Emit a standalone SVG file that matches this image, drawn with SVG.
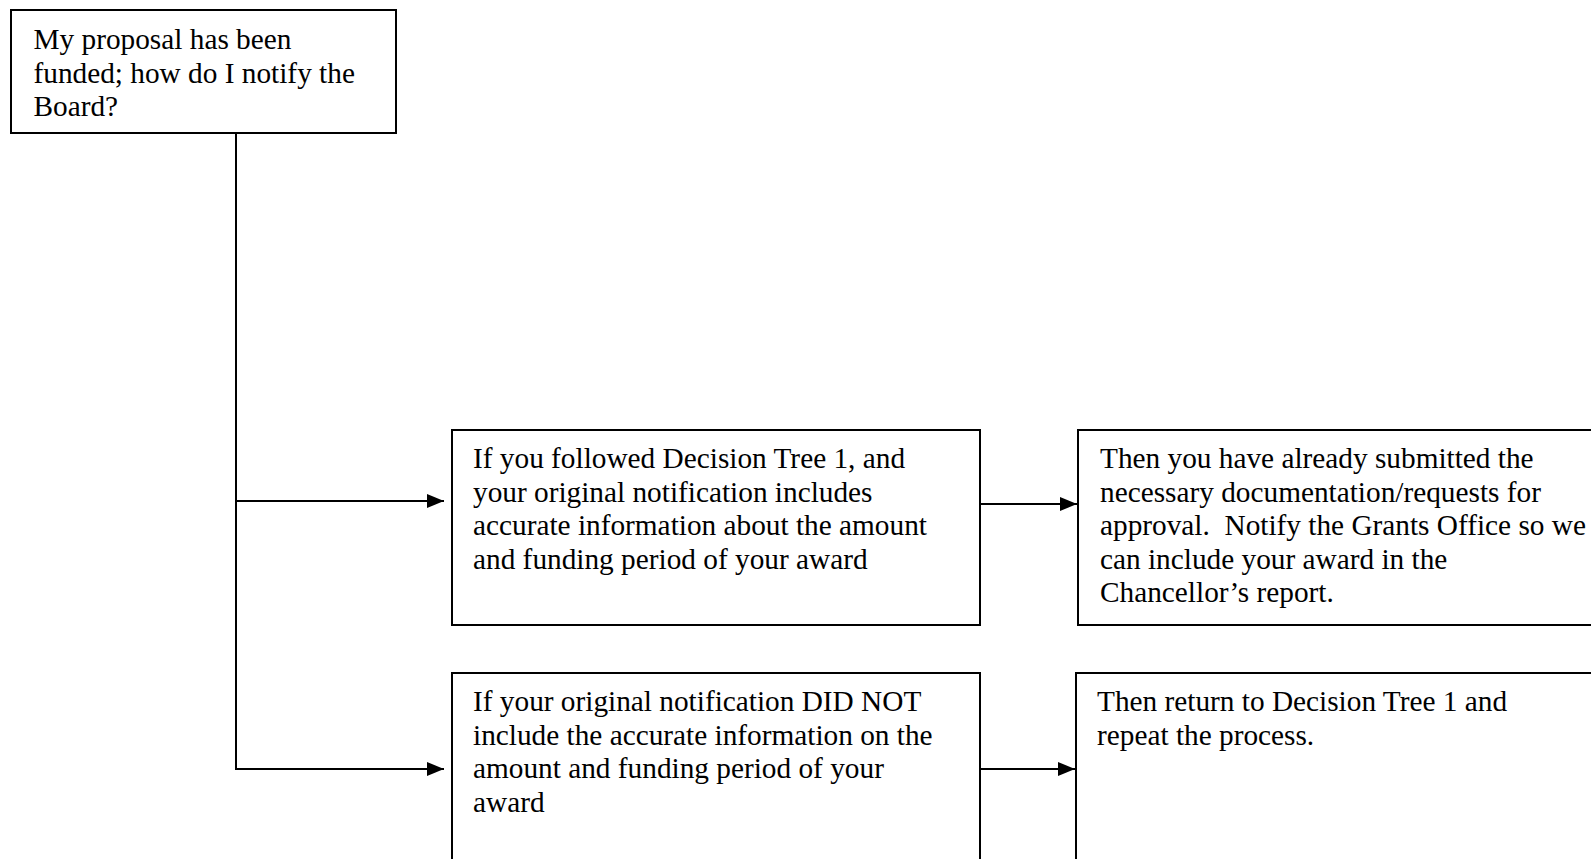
<svg xmlns="http://www.w3.org/2000/svg" width="1591" height="859" viewBox="0 0 1591 859">
  <style>
    .box { fill: #ffffff; stroke: #000000; stroke-width: 2; }
    .wire { fill: none; stroke: #000000; stroke-width: 2; }
    .label { font-family: "Liberation Serif", "Times New Roman", serif; font-size: 29.3px; fill: #000000; }
  </style>
  <defs>
    <marker id="arrow" viewBox="0 0 17 14" refX="17" refY="7" markerWidth="17" markerHeight="14" markerUnits="userSpaceOnUse" orient="auto">
      <path d="M0,0 L17,7 L0,14 Z" fill="#000000"/>
    </marker>
  </defs>
  <rect width="1591" height="859" fill="#ffffff"/>

  <!-- connectors -->
  <g id="connectors">
    <polyline class="wire" points="236,133 236,769 444,769" marker-end="url(#arrow)"/>
    <line class="wire" x1="236" y1="501" x2="444" y2="501" marker-end="url(#arrow)"/>
    <line class="wire" x1="980" y1="504" x2="1077" y2="504" marker-end="url(#arrow)"/>
    <line class="wire" x1="980" y1="769" x2="1075" y2="769" marker-end="url(#arrow)"/>
  </g>

  <!-- start question -->
  <g id="node-start">
    <rect class="box" x="11" y="10" width="385" height="123"/>
    <text class="label">
      <tspan x="33.5" y="49">My proposal has been</tspan>
      <tspan x="33.5" y="82.5">funded; how do I notify the</tspan>
      <tspan x="33.5" y="116">Board?</tspan>
    </text>
  </g>

  <!-- branch: notification was accurate -->
  <g id="node-accurate">
    <rect class="box" x="452" y="430" width="528" height="195"/>
    <text class="label">
      <tspan x="473" y="468">If you followed Decision Tree 1, and</tspan>
      <tspan x="473" y="501.5">your original notification includes</tspan>
      <tspan x="473" y="535">accurate information about the amount</tspan>
      <tspan x="473" y="568.5">and funding period of your award</tspan>
    </text>
  </g>

  <g id="node-notify-grants">
    <rect class="box" x="1078" y="430" width="530" height="195"/>
    <text class="label">
      <tspan x="1100" y="468">Then you have already submitted the</tspan>
      <tspan x="1100" y="501.5">necessary documentation/requests for</tspan>
      <tspan x="1100" y="535">approval.&#160; Notify the Grants Office so we</tspan>
      <tspan x="1100" y="568.5">can include your award in the</tspan>
      <tspan x="1100" y="602">Chancellor’s report.</tspan>
    </text>
  </g>

  <!-- branch: notification was not accurate -->
  <g id="node-inaccurate">
    <rect class="box" x="452" y="673" width="528" height="200"/>
    <text class="label">
      <tspan x="473" y="711">If your original notification DID NOT</tspan>
      <tspan x="473" y="744.5">include the accurate information on the</tspan>
      <tspan x="473" y="778">amount and funding period of your</tspan>
      <tspan x="473" y="811.5">award</tspan>
    </text>
  </g>

  <g id="node-repeat">
    <rect class="box" x="1076" y="673" width="530" height="200"/>
    <text class="label">
      <tspan x="1097" y="711">Then return to Decision Tree 1 and</tspan>
      <tspan x="1097" y="744.5">repeat the process.</tspan>
    </text>
  </g>
</svg>
